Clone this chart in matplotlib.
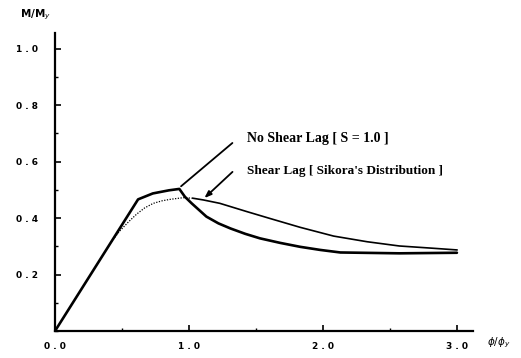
import matplotlib
matplotlib.use("Agg")
import matplotlib.pyplot as plt
from matplotlib.ticker import MultipleLocator

# Data
no_lag_x = [0.0, 0.62, 0.73, 0.85, 0.928, 0.97, 1.02, 1.13, 1.22, 1.31, 1.42, 1.53,
            1.68, 1.83, 1.98, 2.13, 2.57, 3.00]
no_lag_y = [0.0, 0.466, 0.487, 0.498, 0.503, 0.475, 0.452, 0.405, 0.381, 0.363, 0.344, 0.328,
            0.312, 0.298, 0.287, 0.278, 0.275, 0.277]

lag_x = [0.0, 0.42, 0.485, 0.55, 0.61, 0.67, 0.734, 0.80, 0.858, 0.957, 1.03, 1.107, 1.23,
         1.43, 1.60, 1.83, 2.08, 2.33, 2.57, 2.82, 3.00]
lag_y = [0.0, 0.316, 0.355, 0.387, 0.414, 0.436, 0.452, 0.461, 0.466, 0.472, 0.470, 0.464, 0.452,
         0.423, 0.399, 0.367, 0.336, 0.316, 0.301, 0.293, 0.287]

x_ticks = [0.0, 1.0, 2.0, 3.0]
x_tick_labels = ["0 . 0", "1 . 0", "2 . 0", "3 . 0"]
y_ticks = [0.2, 0.4, 0.6, 0.8, 1.0]
y_tick_labels = ["0 . 2", "0 . 4", "0 . 6", "0 . 8", "1 . 0"]

label_no_lag = "No Shear Lag [ S = 1.0 ]"
label_lag = "Shear Lag [ Sikora's Distribution ]"

fig = plt.figure(figsize=(5.21, 3.58), dpi=100)
ax = fig.add_axes([55/521, 27/358, (473-55)/521, (331-33)/358])
ax.set_xlim(0, 3.12)
ax.set_ylim(0, 1.055)

ax.plot(no_lag_x, no_lag_y, color="black", lw=1.9, solid_capstyle="round",
        solid_joinstyle="round")
ax.plot(lag_x[1:11], lag_y[1:11], color="black", lw=0.9, ls=(0, (1, 1.2)))
ax.plot(lag_x[10:], lag_y[10:], color="black", lw=1.2, solid_joinstyle="round")

for s in ["top", "right"]:
    ax.spines[s].set_visible(False)
for s in ["left", "bottom"]:
    ax.spines[s].set_linewidth(1.6)

ax.set_xticks(x_ticks)
ax.set_xticklabels(x_tick_labels, fontsize=6.5, fontweight="bold", family="DejaVu Sans")
ax.set_yticks(y_ticks)
ax.set_yticklabels(y_tick_labels, fontsize=6.5, fontweight="bold", family="DejaVu Sans")
ax.xaxis.set_minor_locator(MultipleLocator(0.5))
ax.yaxis.set_minor_locator(MultipleLocator(0.1))
ax.tick_params(which="major", direction="in", length=4, width=1.2, pad=8)
ax.tick_params(axis="y", which="major", pad=12)
ax.tick_params(which="minor", direction="in", length=2, width=1.0)

# Leader lines and labels
ax.annotate("", xy=(0.925, 0.506), xytext=(1.34, 0.672),
            arrowprops=dict(arrowstyle="-", color="black", lw=1.3))
ax.annotate("", xy=(1.10, 0.464), xytext=(1.34, 0.570),
            arrowprops=dict(arrowstyle="-|>,head_length=0.4,head_width=0.15",
                            color="black", lw=1.3))
ax.text(1.43, 0.683, label_no_lag, fontsize=10, fontweight="bold",
        family="Liberation Serif", va="center", ha="left")
ax.text(1.43, 0.566, label_lag, fontsize=9.5, fontweight="bold",
        family="Liberation Serif", va="center", ha="left")

fig.text(20/521, 1 - 15/358, "M/M$_y$", fontsize=7.5, fontweight="bold",
         va="center", ha="left")
fig.text(487/521, 1 - 343/358, "$\\phi/\\phi_y$", fontsize=7.5, fontweight="bold",
         va="center", ha="left")

fig.savefig("out.png", dpi=100)
